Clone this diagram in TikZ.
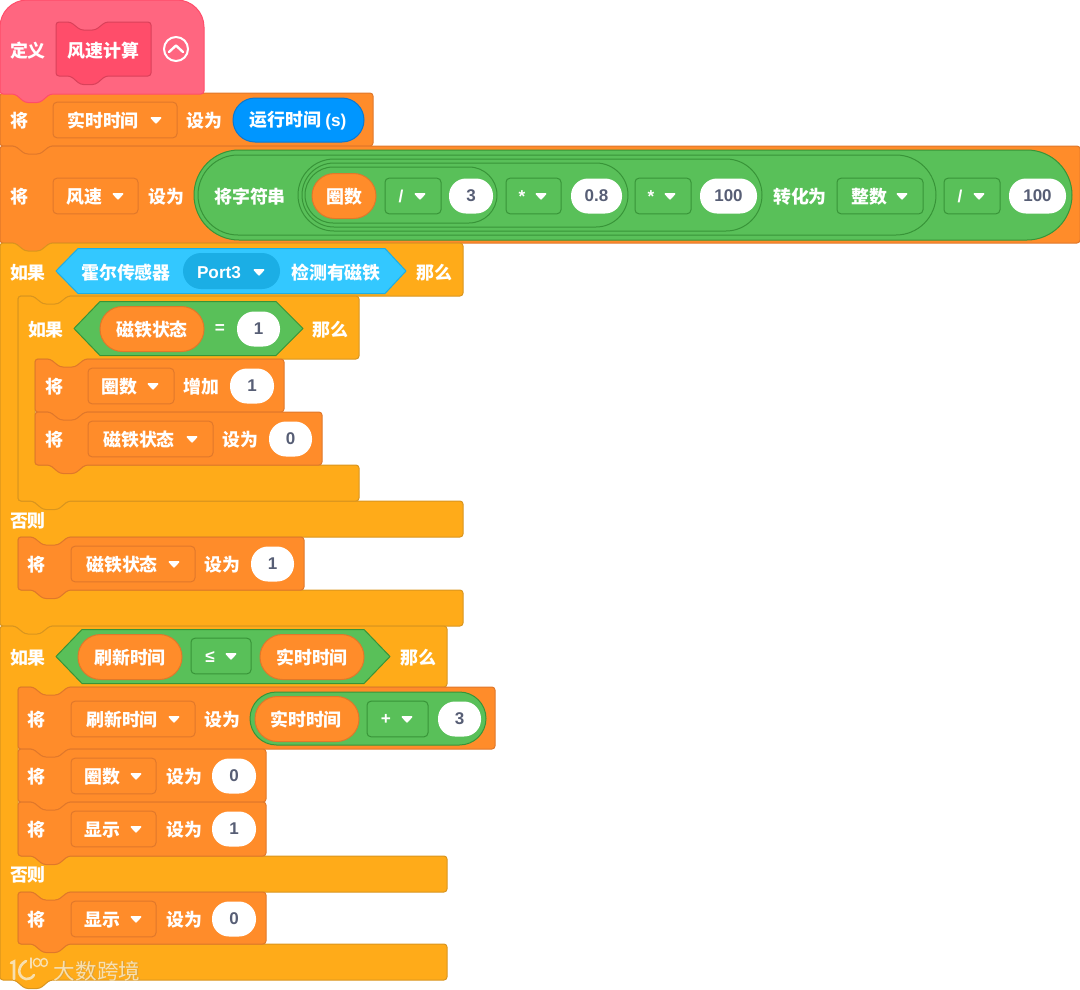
\documentclass[tikz,border=0pt]{standalone}
\usepackage{fontspec}
\setmainfont{Noto Sans CJK SC}
\newfontfamily\latinf{Liberation Sans}
\newcommand\La[1]{{\latinf\fontsize{17.2}{18}\selectfont\bfseries #1}}
\definecolor{orangeF}{HTML}{FF8C2A}
\definecolor{orangeS}{HTML}{E0782A}
\definecolor{amberF}{HTML}{FFAB19}
\definecolor{amberS}{HTML}{D9951F}
\definecolor{greenF}{HTML}{59C059}
\definecolor{greenS}{HTML}{389438}
\definecolor{pinkF}{HTML}{FF6680}
\definecolor{pinkD}{HTML}{FF4D6A}
\definecolor{skyF}{HTML}{33C8FF}
\definecolor{skyD}{HTML}{1BAEE5}
\definecolor{blueF}{HTML}{0096FF}
\definecolor{blueS}{HTML}{0B78D0}
\definecolor{numC}{HTML}{575E75}
\definecolor{markC}{HTML}{F8DFAE}
\definecolor{markS}{HTML}{B89860}
\tikzset{
  orangeblock/.style={draw=orangeS,fill=orangeF,line width=1pt,rounded corners=3pt},
  amberblock/.style={draw=amberS,fill=amberF,line width=1pt,rounded corners=3pt},
  oranged/.style={draw=orangeS,fill=orangeF,line width=1pt,rounded corners=4pt},
  greend/.style={draw=greenS,fill=greenF,line width=1pt,rounded corners=4pt},
  orangepill/.style={draw=orangeS,fill=orangeF,line width=1pt},
  greenpill/.style={draw=greenS,fill=greenF,line width=1pt},
  whitepill/.style={fill=white,draw=none},
  bluepill/.style={draw=blueS,fill=blueF,line width=1pt},
  skypill/.style={fill=skyD,draw=none},
  lab/.style={text=white,font=\fontsize{17.9}{18}\selectfont\bfseries,inner sep=0pt,anchor=center,yshift=-0.7pt},
  numlab/.style={text=numC,font=\latinf\fontsize{17}{18}\selectfont\bfseries,inner sep=0pt,anchor=center},
  tri/.style={fill=white,draw=white,line width=1.6pt,line join=round},
  hexgreen/.style={draw=greenS,fill=greenF,line width=1pt,line join=round},
  hexsky/.style={draw=skyD,fill=skyF,line width=1pt,line join=round},
  wmark/.style={text=markC,font=\fontsize{21.6}{22}\selectfont,inner sep=0pt,anchor=center},
  wshadow/.style={text=markS,font=\fontsize{21.6}{22}\selectfont,inner sep=0pt,anchor=center},
  wstroke/.style={draw=markC,line width=2.6pt,line cap=round,fill=none}
}
\newcount\nodeno
\newcommand\nextno{\global\advance\nodeno by 1 }
\newcommand\T[3]{\nextno\node[lab] (t\the\nodeno) at (#1,#2) {#3};}
\newcommand\N[3]{\nextno\node[numlab] (t\the\nodeno) at (#1,#2) {#3};}
% notch along a top edge, left to right
\newcommand\topn[2]{-- ({#1+15},#2) -- ({#1+25},{#2+8}) -- ({#1+40},{#2+8}) -- ({#1+50},#2)}
% bump along a bottom edge, right to left
\newcommand\botn[2]{-- ({#1+50},#2) -- ({#1+40},{#2+8.5}) -- ({#1+25},{#2+8.5}) -- ({#1+15},#2)}
% x1 x2 y1 y2 style
\newcommand\block[5]{\draw[#5] (#1,#3) \topn{#1}{#3} -- (#2,#3) -- (#2,#4) \botn{#1}{#4} -- (#1,#4) -- cycle;}
% C block with one mouth: x1 xi xr y0 y1 y2 y3
\newcommand\cblock[7]{\draw[amberblock] (#1,#4) \topn{#1}{#4} -- (#3,#4) -- (#3,#5) \botn{#2}{#5} -- (#2,#5) -- (#2,#6) \topn{#2}{#6} -- (#3,#6) -- (#3,#7) \botn{#1}{#7} -- (#1,#7) -- cycle;}
% pill: x1 x2 yc h style
\newcommand\pill[5]{\draw[#5,rounded corners={(#4/2-0.01)*1pt}] (#1,{#3-#4/2}) rectangle (#2,{#3+#4/2});}
% number oval: x1 x2 yc text
\newcommand\numoval[4]{\draw[whitepill,rounded corners=17pt] (#1,{#3-17.5}) rectangle (#2,{#3+17.5}); \N{{(#1+#2)/2}}{#3}{#4}}
\newcommand\tridown[2]{\draw[tri] ({#1-4.6},{#2-2.1}) -- ({#1+4.6},{#2-2.1}) -- (#1,{#2+2.8}) -- cycle;}
% dropdown: x1 x2 yc textx text arrowx style
\newcommand\dd[7]{\draw[#7] (#1,{#3-17.8}) rectangle (#2,{#3+17.8}); \T{#4}{#3}{#5}\tridown{#6}{#3}}
% hexagon: x1 x1in x2in x2 yc h style
\newcommand\hex[7]{\draw[#7] (#1,#5) -- (#2,{#5-#6/2}) -- (#3,{#5-#6/2}) -- (#4,#5) -- (#3,{#5+#6/2}) -- (#2,{#5+#6/2}) -- cycle;}
\begin{document}
\begin{tikzpicture}[x=1pt,y=-1pt]
\useasboundingbox (0,0) rectangle (1080,989);
% ---- stacks
\block{0}{373}{93}{146}{orangeblock}
\block{0}{1080}{146}{243}{orangeblock}
% hat
\draw[draw=pinkD,fill=pinkF,line width=1pt] [rounded corners=3pt] (0,94) [rounded corners=27pt] -- (0,0) -- (204,0) [rounded corners=3pt] -- (204,94) \botn{0}{94} -- cycle;
\draw[draw=pinkD!85!black,fill=pinkD,line width=1pt,rounded corners=3pt] (56,22) \topn{55.5}{22} -- (151,22) -- (151,76) \botn{55.5}{76} -- (56,76) -- cycle;
% if 1
\draw[amberblock] (0,243) \topn{0}{243} -- (463,243) -- (463,296) \botn{18}{296} -- (18,296) -- (18,501) \topn{18}{501} -- (463,501) -- (463,537) \botn{18}{537} -- (18,537) -- (18,590) \topn{18}{590} -- (463,590) -- (463,626) \botn{0}{626} -- (0,626) -- cycle;
\cblock{18}{35}{359}{296}{359}{465}{501}
\block{35}{284}{359}{412}{orangeblock}
\block{35}{322}{412}{465}{orangeblock}
\block{18}{304}{537}{590}{orangeblock}
% if 2
\draw[amberblock] (0,626) \topn{0}{626} -- (447,626) -- (447,687) \botn{18}{687} -- (18,687) -- (18,856) \topn{18}{856} -- (447,856) -- (447,892) \botn{18}{892} -- (18,892) -- (18,944) \topn{18}{944} -- (447,944) -- (447,980) \botn{0}{980} -- (0,980) -- cycle;
\block{18}{495}{687}{749}{orangeblock}
\block{18}{266}{749}{802}{orangeblock}
\block{18}{266}{802}{856}{orangeblock}
\block{18}{266}{892}{944}{orangeblock}
% ---- hat contents
\T{28}{49.5}{定义}
\T{103.5}{49.5}{风速计算}
\nextno\node[circle,draw=white,line width=2pt,minimum size=24pt,inner sep=0pt] (t\the\nodeno) at (176,49) {};
\draw[white,line width=2.4pt,line cap=round,line join=round] (169,52) -- (176,45.5) -- (183,52);
% ---- row 2
\T{19}{120}{将}
\dd{53}{177}{120}{103}{实时时间}{156}{oranged}
\T{204}{120}{设为}
\pill{233}{364}{120}{44}{bluepill}
\T{298}{120}{运行时间 \La{(s)}}
% ---- row 3
\T{19}{196}{将}
\dd{53}{138}{196}{84}{风速}{118}{oranged}
\T{166}{196}{设为}
\pill{194}{1072}{195}{90}{greenpill}
\pill{198}{936}{195}{80}{greenpill}
\pill{298}{762}{195}{72}{greenpill}
\pill{302}{628}{195}{64}{greenpill}
\pill{305}{497}{195}{56}{greenpill}
\T{250}{196}{将字符串}
\pill{312}{376}{196}{45}{orangepill}
\T{344}{196}{圈数}
\dd{385}{441}{196}{401}{\La{/}}{420}{greend}
\numoval{449}{493}{196}{3}
\dd{506}{561}{196}{522}{\La{*}}{541}{greend}
\numoval{571}{622}{196}{0.8}
\dd{635}{691}{196}{651}{\La{*}}{670}{greend}
\numoval{700}{757}{196}{100}
\T{800}{196}{转化为}
\dd{837}{923}{196}{869}{整数}{902}{greend}
\dd{944}{1000}{196}{960}{\La{/}}{979}{greend}
\numoval{1009}{1066}{196}{100}
% ---- if 1
\T{28}{272}{如果}
\hex{56}{78}{385}{406}{271}{45}{hexsky}
\T{126}{272}{霍尔传感器}
\pill{183}{280}{271}{36}{skypill}
\T{219}{272}{\La{Port3}}
\tridown{259}{272}
\T{336}{272}{检测有磁铁}
\T{434}{272}{那么}
% inner if
\T{46}{329}{如果}
\hex{74}{100}{276}{303}{328.5}{54}{hexgreen}
\pill{100}{204}{329}{45}{orangepill}
\T{152}{329}{磁铁状态}
\T{220}{328}{\La{=}}
\numoval{237}{280}{329}{1}
\T{330}{329}{那么}
% inner set
\T{54}{386}{将}
\dd{88}{174}{386}{119}{圈数}{153}{oranged}
\T{201}{386}{增加}
\numoval{230}{274}{386}{1}
\T{54}{439}{将}
\dd{88}{213}{439}{139}{磁铁状态}{192}{oranged}
\T{240}{439}{设为}
\numoval{269}{312}{439}{0}
\T{28}{520}{否则}
\T{36}{564}{将}
\dd{71}{195}{564}{122}{磁铁状态}{174}{oranged}
\T{222}{564}{设为}
\numoval{251}{294}{564}{1}
% ---- if 2
\T{28}{657}{如果}
\hex{56}{82}{364}{390}{656.5}{54}{hexgreen}
\pill{78}{182}{657}{45}{orangepill}
\T{130}{657}{刷新时间}
\dd{191}{251}{656}{210}{\La{≤}}{231}{greend}
\pill{260}{364}{657}{45}{orangepill}
\T{312}{657}{实时时间}
\T{418}{657}{那么}
\T{36}{719}{将}
\dd{71}{195}{719}{122}{刷新时间}{174}{oranged}
\T{222}{719}{设为}
\pill{250}{486}{718.5}{53}{greenpill}
\pill{255}{359}{719}{45}{orangepill}
\T{306}{719}{实时时间}
\dd{367}{428}{719}{386}{\La{+}}{407}{greend}
\numoval{438}{481}{719}{3}
\T{36}{776}{将}
\dd{71}{156}{776}{102}{圈数}{136}{oranged}
\T{184}{776}{设为}
\numoval{212}{256}{776}{0}
\T{36}{829}{将}
\dd{71}{156}{829}{102}{显示}{136}{oranged}
\T{184}{829}{设为}
\numoval{212}{256}{829}{1}
\T{28}{874}{否则}
\T{36}{919}{将}
\dd{71}{156}{919}{102}{显示}{136}{oranged}
\T{184}{919}{设为}
\numoval{212}{256}{919}{0}
% ---- watermark
\nextno\node[wshadow,opacity=.6] (t\the\nodeno) at (97.8,971.6) {大数跨境};
\nextno\node[wmark] (t\the\nodeno) at (97,971) {大数跨境};
\draw[wstroke] (11,963) -- (14,961.5) -- (14,979);
\draw[wstroke] (26,961) .. controls (17,966) and (17,977) .. (26,979) .. controls (29,979.5) and (32,978) .. (34,975);
\draw[wstroke,line width=1.4pt] (31,958) -- (31,968);
\draw[wstroke,line width=1.4pt] (37,962.5) circle[x radius=3.6,y radius=4];
\draw[wstroke,line width=1.4pt] (44,962.5) circle[x radius=3.4,y radius=4];
\end{tikzpicture}
\end{document}
